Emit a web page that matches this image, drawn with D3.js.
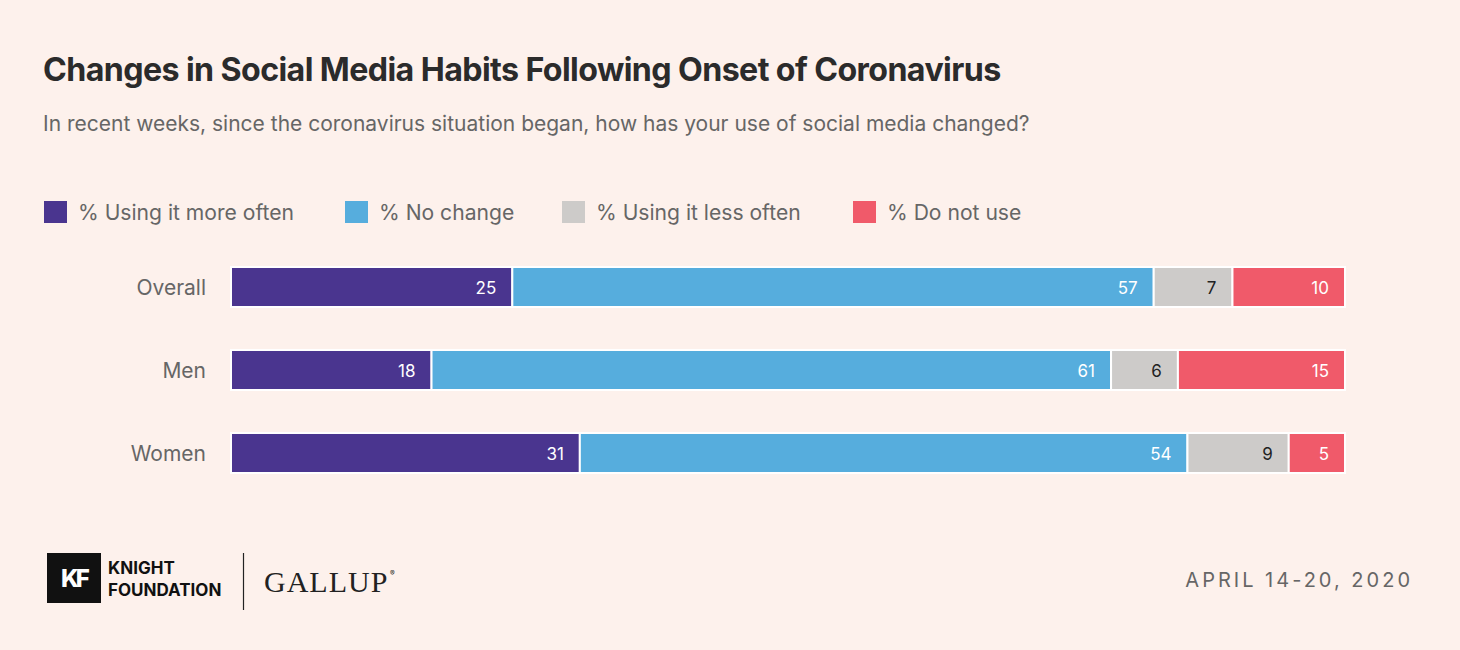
<!DOCTYPE html>
<html><head><meta charset="utf-8">
<script src="https://cdn.jsdelivr.net/npm/d3@7"></script>
<style>
html,body{margin:0;padding:0;background:#fdf1ec;}
svg{display:block;}
</style></head>
<body>
<script>
const categories = ["Overall", "Men", "Women"];
const seriesNames = ["% Using it more often", "% No change", "% Using it less often", "% Do not use"];
const moreOften = [25, 18, 31];
const noChange = [57, 61, 54];
const lessOften = [7, 6, 9];
const doNotUse = [10, 15, 5];
const colors = ["#4a358f", "#56addd", "#cdcbc9", "#f05a6a"];
const labelColors = ["#ffffff", "#ffffff", "#222222", "#ffffff"];

const W = 1460, H = 650;
const svg = d3.select("body").append("svg").attr("width", W).attr("height", H);
svg.append("rect").attr("width", W).attr("height", H).attr("fill", "#fdf1ec");

const font = "Inter, 'Noto Sans', sans-serif";
svg.append("text").attr("x", 43).attr("y", 81)
  .attr("font-family", font).attr("font-weight", 700).attr("font-size", 32.2)
  .attr("letter-spacing", -0.6).attr("fill", "#2b2b2b")
  .text("Changes in Social Media Habits Following Onset of Coronavirus");
svg.append("text").attr("x", 43).attr("y", 131)
  .attr("font-family", font).attr("font-size", 21).attr("fill", "#666666")
  .text("In recent weeks, since the coronavirus situation began, how has your use of social media changed?");

// legend
const legendX = [44, 345, 562, 853];
seriesNames.forEach((s, i) => {
  const g = svg.append("g").attr("transform", `translate(${legendX[i]},201)`);
  g.append("rect").attr("width", 23).attr("height", 22).attr("fill", colors[i]);
  g.append("text").attr("x", 34).attr("y", 19).attr("font-family", font)
    .attr("font-size", 21.1).attr("fill", "#666666").text(s);
});

// data table
const series = [moreOften, noChange, lessOften, doNotUse];
const rows = categories.map((c, r) => {
  const vals = series.map(s => s[r]);
  const total = d3.sum(vals);
  let cum = 0;
  return { cat: c, segs: vals.map((v, i) => { const s = { i, v, x0: cum / total, x1: (cum + v) / total }; cum += v; return s; }) };
});

const x = d3.scaleLinear().domain([0, 1]).range([231, 1345]);
const y = d3.scaleBand().domain(categories).range([267, 473]).paddingInner(43 / 83).paddingOuter(0);

categories.forEach(c => {
  svg.append("text").attr("x", 206).attr("y", y(c) + y.bandwidth() / 2 + 7.5)
    .attr("text-anchor", "end").attr("font-family", font).attr("font-size", 21)
    .attr("fill", "#666666").text(c);
});

const rowG = svg.selectAll("g.row").data(rows).join("g").attr("class", "row")
  .attr("transform", d => `translate(0,${y(d.cat)})`);
rowG.selectAll("rect").data(d => d.segs).join("rect")
  .attr("x", d => x(d.x0)).attr("width", d => x(d.x1) - x(d.x0))
  .attr("y", 0).attr("height", y.bandwidth())
  .attr("fill", d => colors[d.i]).attr("stroke", "#ffffff").attr("stroke-width", 2);
rowG.selectAll("text").data(d => d.segs).join("text")
  .attr("x", d => x(d.x1) - 16).attr("y", y.bandwidth() / 2 + 6.5)
  .attr("text-anchor", "end").attr("font-family", font).attr("font-size", 17)
  .attr("fill", d => labelColors[d.i]).text(d => d.v);

// footer
svg.append("rect").attr("x", 47).attr("y", 553).attr("width", 54).attr("height", 50).attr("fill", "#111");
svg.append("text").attr("x", 74).attr("y", 587).attr("text-anchor", "middle")
  .attr("font-family", font).attr("font-weight", 800).attr("font-size", 24).attr("fill", "#fff")
  .attr("letter-spacing", -3).text("KF");
svg.append("text").attr("x", 108).attr("y", 574).attr("font-family", font).attr("font-weight", 700)
  .attr("font-size", 17).attr("fill", "#111").text("KNIGHT");
svg.append("text").attr("x", 108).attr("y", 596).attr("font-family", font).attr("font-weight", 700)
  .attr("font-size", 17).attr("fill", "#111").text("FOUNDATION");
svg.append("line").attr("x1", 243.5).attr("x2", 243.5).attr("y1", 553).attr("y2", 610)
  .attr("stroke", "#222").attr("stroke-width", 1.2);
svg.append("text").attr("x", 264).attr("y", 592).attr("font-family", "'Liberation Serif', 'DejaVu Serif', serif")
  .attr("font-size", 30).attr("fill", "#222").attr("letter-spacing", 1).text("GALLUP");
svg.append("text").attr("x", 390).attr("y", 576).attr("font-family", font).attr("font-size", 7).attr("fill", "#222").text("®");

svg.append("text").attr("x", 1413).attr("y", 587).attr("text-anchor", "end")
  .attr("font-family", font).attr("font-size", 20).attr("letter-spacing", 3)
  .attr("fill", "#666666").text("APRIL 14-20, 2020");
</script>
</body></html>
